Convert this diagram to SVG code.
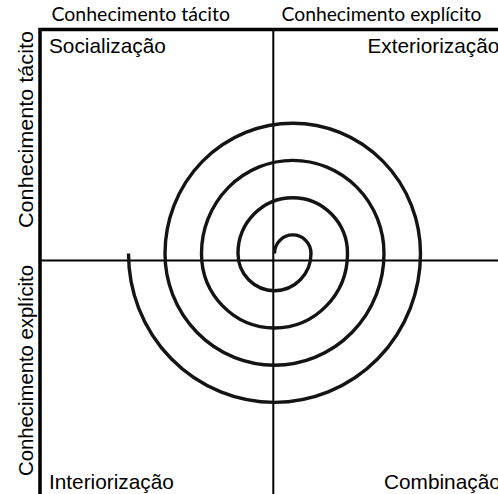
<svg xmlns="http://www.w3.org/2000/svg" width="498" height="494" viewBox="0 0 498 494">
<style>
  .bg { fill: #ffffff; }
  .frame { stroke: #000; stroke-width: 3.5; fill: none; }
  .axis { stroke: #000; stroke-width: 2; fill: none; }
  .spiral { stroke: #141414; stroke-width: 3.4; fill: none; }
  .quad { font-family: "Liberation Sans", Arial, sans-serif; font-size: 20.8px; fill: #000; }
  .side { font-family: "Liberation Sans", Arial, sans-serif; font-size: 20.5px; fill: #000; }
  .top { font-family: Lato, "Open Sans", "Liberation Sans", sans-serif; font-size: 19px; fill: #000; }
</style>
<rect class="bg" x="0" y="0" width="498" height="494"/>

<g id="frame">
  <path class="frame" d="M40,494 V29.5 H498"/>
</g>

<g id="connectors">
  <line class="axis" x1="40" y1="260.5" x2="498" y2="260.5"/>
  <line class="axis" x1="273.3" y1="29.5" x2="273.3" y2="494"/>
</g>

<g id="spiral">
  <path class="spiral" d="M274.5,253.5 A18.25 18.6 0 0 1 311,253.5 A36.5 37.2 0 0 1 238,253.5 A54.75 55.8 0 0 1 347.5,253.5 A73 74.5 0 0 1 201.5,253.5 A91.25 93.1 0 0 1 384,253.5 A109.5 111.7 0 0 1 165,253.5 A127.75 130.3 0 0 1 420.5,253.5 A146 148.9 0 0 1 128.5,253.5"/>
</g>

<g id="label-top-tacito">
  <text class="top" x="51.5" y="21" textLength="178.5" lengthAdjust="spacingAndGlyphs">Conhecimento tácito</text>
</g>
<g id="label-top-explicito">
  <text class="top" x="281.5" y="21" textLength="200" lengthAdjust="spacingAndGlyphs">Conhecimento explícito</text>
</g>
<g id="label-left-tacito">
  <text class="side" transform="translate(33,228) rotate(-90)" x="0" y="0" textLength="197" lengthAdjust="spacingAndGlyphs">Conhecimento tácito</text>
</g>
<g id="label-left-explicito">
  <text class="side" transform="translate(33,476) rotate(-90)" x="0" y="0" textLength="211" lengthAdjust="spacingAndGlyphs">Conhecimento explícito</text>
</g>

<g id="socializacao">
  <text class="quad" x="49" y="53">Socialização</text>
</g>
<g id="exteriorizacao">
  <text class="quad" x="367.5" y="53">Exteriorização</text>
</g>
<g id="interiorizacao">
  <text class="quad" x="49" y="489">Interiorização</text>
</g>
<g id="combinacao">
  <text class="quad" x="384" y="489">Combinação</text>
</g>
</svg>
